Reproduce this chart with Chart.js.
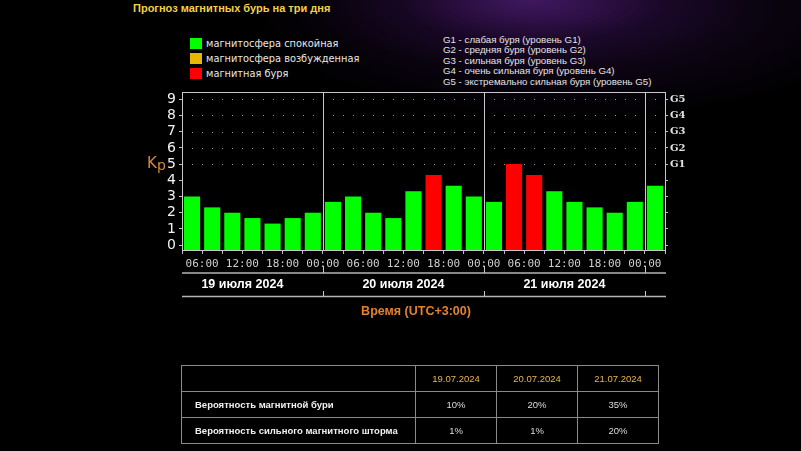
<!DOCTYPE html>
<html lang="ru">
<head>
<meta charset="utf-8">
<title>Прогноз магнитных бурь на три дня</title>
<script src="https://cdn.jsdelivr.net/npm/chart.js@4/dist/chart.umd.min.js"></script>
<style>
  html, body {
    margin: 0;
    padding: 0;
    width: 801px;
    height: 451px;
    overflow: hidden;
    background: #000;
  }
  body {
    position: relative;
    background:
      radial-gradient(ellipse 220px 70px at 530px 0px, rgba(80, 30, 120, 0.7), rgba(40, 10, 60, 0.35) 60%, rgba(0, 0, 0, 0) 100%),
      radial-gradient(ellipse 320px 110px at 570px 10px, rgba(45, 15, 70, 0.6), rgba(0, 0, 0, 0) 100%),
      #000;
    font-family: "Liberation Sans", Arial, sans-serif;
  }
  #titulo {
    position: absolute;
    left: 133px;
    top: 2px;
    color: #f2d04a;
    font: bold 11px "Liberation Sans", Arial, sans-serif;
  }
  #leyenda {
    position: absolute;
    left: 190px;
    top: 36px;
  }
  .item {
    height: 15px;
    display: flex;
    align-items: center;
    color: #e8e8e8;
    font: 9.8px "DejaVu Sans", sans-serif;
  }
  .item span {
    display: inline-block;
    width: 12px;
    height: 11px;
    margin-right: 4px;
  }
  #escala {
    position: absolute;
    left: 443px;
    top: 35px;
    color: #e4e4e4;
    font: 9.7px "Liberation Sans", Arial, sans-serif;
    line-height: 10.4px;
  }
  #grafico {
    position: absolute;
    left: 0;
    top: 0;
  }
  table {
    position: absolute;
    left: 181px;
    top: 365px;
    width: 478px;
    border-collapse: collapse;
    font: 9.5px "Liberation Sans", Arial, sans-serif;
    color: #dcdcdc;
  }
  td {
    border: 1px solid #8a8a8a;
    height: 25px;
    padding: 0;
    text-align: center;
  }
  td.etiqueta {
    text-align: left;
    padding-left: 13px;
    font-weight: bold;
    color: #f0f0f0;
    width: 220px;
  }
  tr.cab td {
    color: #e9b64a;
  }
</style>
</head>
<body>
<div id="titulo">Прогноз магнитных бурь на три дня</div>
<div id="leyenda">
  <div class="item"><span style="background:#00ff00"></span>магнитосфера спокойная</div>
  <div class="item"><span style="background:#e6b800"></span>магнитосфера возбужденная</div>
  <div class="item"><span style="background:#ff0000"></span>магнитная буря</div>
</div>
<div id="escala"></div>
<canvas id="grafico" width="801" height="451"></canvas>
<table id="tabla"></table>

<script>
// Kp por intervalos de 3 horas, desde 03:00 del 19.07 hasta 03:00 del 22.07
const kp = [
  3.00, 2.33, 2.00, 1.67, 1.33, 1.67, 2.00,
  2.67, 3.00, 2.00, 1.67, 3.33, 4.33, 3.67, 3.00,
  2.67, 5.00, 4.33, 3.33, 2.67, 2.33, 2.00, 2.67,
  3.67
];
const horaInicio = 3; // hora del primer intervalo
const dias = ["19 июля 2024", "20 июля 2024", "21 июля 2024"];
const kpTicks = [0, 1, 2, 3, 4, 5, 6, 7, 8, 9];
const gEtiquetas = ["G1", "G2", "G3", "G4", "G5"];
const gTextos = [
  "G1 - слабая буря (уровень G1)",
  "G2 - средняя буря (уровень G2)",
  "G3 - сильная буря (уровень G3)",
  "G4 - очень сильная буря (уровень G4)",
  "G5 - экстремально сильная буря (уровень G5)"
];
const fechas = ["19.07.2024", "20.07.2024", "21.07.2024"];
const probTormenta = ["10%", "20%", "35%"];
const probFuerte = ["1%", "1%", "20%"];

const yMin = -0.3;
const yMax = 9.45;

document.getElementById("escala").innerHTML = gTextos.join("<br>");

// tabla de probabilidades
const tabla = document.getElementById("tabla");
function fila(etiqueta, valores, clase) {
  const tr = document.createElement("tr");
  if (clase) tr.className = clase;
  const td0 = document.createElement("td");
  td0.className = "etiqueta";
  td0.textContent = etiqueta;
  tr.appendChild(td0);
  valores.forEach(function (v) {
    const td = document.createElement("td");
    td.textContent = v;
    tr.appendChild(td);
  });
  tabla.appendChild(tr);
}
fila("", fechas, "cab");
fila("Вероятность магнитной бури", probTormenta);
fila("Вероятность сильного магнитного шторма", probFuerte);

function colorKp(v) {
  return v >= 4 ? "#ff0000" : "#00ff00";
}

// posiciones de medianoche (en intervalos de 3 h)
function medianoches() {
  const res = [];
  for (let i = 0; i <= kp.length; i++) {
    if ((horaInicio + 3 * i) % 24 === 0) res.push(i);
  }
  return res;
}

const decoracion = {
  id: "decoracion",
  beforeDatasetsDraw(chart) {
    const ctx = chart.ctx;
    const x = chart.scales.x;
    const y = chart.scales.y;
    ctx.save();
    ctx.fillStyle = "#9a9a9a";
    for (let v = 5; v <= 9; v++) {
      const py = Math.round(y.getPixelForValue(v));
      for (let s = 0.5; s < kp.length; s += 0.5) {
        ctx.fillRect(Math.round(x.getPixelForValue(s)), py, 1, 1);
      }
    }
    ctx.restore();
  },
  afterDraw(chart) {
    const ctx = chart.ctx;
    const a = chart.chartArea;
    const x = chart.scales.x;
    ctx.save();
    ctx.strokeStyle = "#c8c8c8";
    ctx.lineWidth = 1;
    ctx.strokeRect(Math.round(a.left) + 0.5, Math.round(a.top) + 0.5,
      Math.round(a.right - a.left), Math.round(a.bottom - a.top));

    // lineas de los dias
    const linea1 = 273, linea2 = 296.5;
    ctx.strokeStyle = "#b4b4b4";
    ctx.lineWidth = 1.5;
    [linea1, linea2].forEach(function (ly) {
      ctx.beginPath();
      ctx.moveTo(a.left, ly);
      ctx.lineTo(a.right + 1, ly);
      ctx.stroke();
    });

    ctx.strokeStyle = "#c8c8c8";
    ctx.lineWidth = 1;
    medianoches().forEach(function (m) {
      const px = Math.round(x.getPixelForValue(m)) + 0.5;
      ctx.beginPath();
      ctx.moveTo(px, a.top);
      ctx.lineTo(px, a.bottom);
      ctx.moveTo(px, 266);
      ctx.lineTo(px, linea1);
      ctx.moveTo(px, 291);
      ctx.lineTo(px, linea2);
      ctx.stroke();
    });

    // nombres de los dias, centrados en el dia completo
    ctx.fillStyle = "#ffffff";
    ctx.font = "bold 12.5px 'Liberation Sans', Arial, sans-serif";
    ctx.textAlign = "center";
    ctx.textBaseline = "middle";
    const primera = medianoches()[0];
    dias.forEach(function (d, i) {
      const centro = primera - 8 + i * 8 + 4;
      ctx.fillText(d, x.getPixelForValue(centro), 284.5);
    });

    ctx.fillStyle = "#e0822e";
    ctx.font = "bold 12.5px 'Liberation Sans', Arial, sans-serif";
    ctx.fillText("Время (UTC+3:00)", 416, 312);

    ctx.fillStyle = "#d4883a";
    ctx.font = "15px 'DejaVu Sans', sans-serif";
    ctx.textAlign = "left";
    ctx.fillText("K", 147, 164);
    ctx.font = "14px 'DejaVu Sans', sans-serif";
    ctx.fillText("p", 157, 166);
    ctx.restore();
  }
};

const ctxGrafico = document.getElementById("grafico").getContext("2d");

new Chart(ctxGrafico, {
  type: "bar",
  data: {
    datasets: [
      {
        data: kp.map(function (v, i) {
          return { x: i + 0.5, y: [yMin, v] };
        }),
        backgroundColor: kp.map(colorKp),
        borderWidth: 0,
        barPercentage: 0.8,
        categoryPercentage: 1
      }
    ]
  },
  options: {
    responsive: false,
    animation: false,
    events: [],
    layout: {
      padding: { left: 148, right: 106, top: 92, bottom: 171 }
    },
    plugins: {
      legend: { display: false },
      tooltip: { enabled: false }
    },
    scales: {
      x: {
        type: "linear",
        offset: false,
        min: 0,
        max: kp.length,
        afterBuildTicks: function (s) {
          s.ticks = kp.map(function (v, i) { return { value: i }; }).concat([{ value: kp.length }]);
        },
        afterFit: function (s) { s.height = 30; },
        border: { display: false },
        grid: {
          offset: false,
          drawOnChartArea: false,
          drawTicks: true,
          tickLength: 4,
          color: "#bdbdbd"
        },
        ticks: {
          autoSkip: false,
          maxRotation: 0,
          padding: 4,
          color: "#d0d0d0",
          font: { family: "'DejaVu Sans Mono', monospace", size: 11 },
          callback: function (v) {
            const h = (horaInicio + 3 * v) % 24;
            if (v >= kp.length || h % 6 !== 0) return "";
            return (h < 10 ? "0" : "") + h + ":00";
          }
        }
      },
      y: {
        position: "left",
        min: yMin,
        max: yMax,
        afterBuildTicks: function (s) {
          s.ticks = kpTicks.map(function (v) { return { value: v }; });
        },
        afterFit: function (s) { s.width = 34; },
        border: { display: false },
        grid: {
          drawOnChartArea: false,
          drawTicks: true,
          tickLength: 3,
          color: "#bdbdbd"
        },
        ticks: {
          autoSkip: false,
          padding: 3,
          color: "#f2f2f2",
          font: { family: "'DejaVu Sans', sans-serif", size: 14 }
        }
      },
      y2: {
        position: "right",
        min: yMin,
        max: yMax,
        afterBuildTicks: function (s) {
          s.ticks = kpTicks.map(function (v) { return { value: v }; });
        },
        afterFit: function (s) { s.width = 30; },
        border: { display: false },
        grid: {
          drawOnChartArea: false,
          drawTicks: true,
          tickLength: 3,
          color: "#bdbdbd"
        },
        ticks: {
          autoSkip: false,
          padding: 2,
          color: "#e0e0e0",
          font: { family: "'DejaVu Serif', serif", size: 10, weight: "bold" },
          callback: function (v) {
            return v >= 5 ? gEtiquetas[v - 5] : "";
          }
        }
      }
    }
  },
  plugins: [decoracion]
});
</script>
</body>
</html>
